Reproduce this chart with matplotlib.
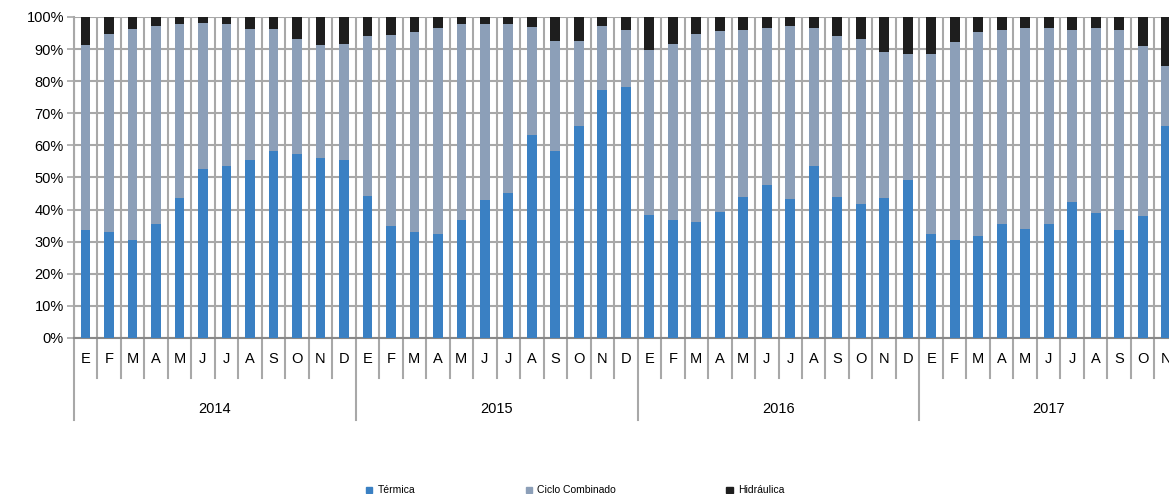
import matplotlib.pyplot as plt
import matplotlib.transforms as mtransforms
from matplotlib.patches import Patch

plt.rcParams['font.family'] = ['Liberation Sans', 'DejaVu Sans']

years = ["2014", "2015", "2016", "2017"]
months = ["E", "F", "M", "A", "M", "J", "J", "A", "S", "O", "N", "D"]
months_per_year = [12, 12, 12, 11]

# shares in %
termica = [33.5, 33.0, 30.6, 35.5, 43.7, 52.5, 53.6, 55.3, 58.2, 57.2, 56.2, 55.3,
           44.1, 34.8, 33.0, 32.4, 36.9, 43.0, 45.3, 63.3, 58.4, 65.9, 77.2, 78.2,
           38.3, 36.9, 36.1, 39.4, 43.8, 47.6, 43.2, 53.6, 44.0, 41.6, 43.6, 49.2,
           32.5, 30.6, 31.7, 35.4, 33.9, 35.4, 42.3, 38.8, 33.7, 38.1, 65.9]
ciclo = [57.7, 61.7, 65.6, 61.6, 54.1, 45.7, 44.3, 41.1, 38.0, 35.8, 35.0, 36.3,
         49.9, 59.5, 62.2, 64.3, 60.9, 54.9, 52.6, 33.5, 34.2, 26.5, 19.9, 17.9,
         51.3, 54.7, 58.6, 56.3, 52.3, 49.1, 54.1, 42.9, 50.2, 51.7, 45.5, 39.3,
         56.0, 61.5, 63.5, 60.7, 62.7, 61.2, 53.8, 57.8, 62.1, 53.0, 18.7]
hidraulica = [8.8, 5.3, 3.8, 2.9, 2.2, 1.8, 2.1, 3.6, 3.8, 7.0, 8.8, 8.4,
              6.0, 5.7, 4.8, 3.3, 2.2, 2.1, 2.1, 3.2, 7.4, 7.6, 2.9, 3.9,
              10.4, 8.4, 5.3, 4.3, 3.9, 3.3, 2.7, 3.5, 5.8, 6.7, 10.9, 11.5,
              11.5, 7.9, 4.8, 3.9, 3.4, 3.4, 3.9, 3.4, 4.2, 8.9, 15.4]

c_term = "#3a80c3"
c_ciclo = "#8c9fb8"
c_hid = "#1e1e1e"
c_grid = "#a8a8a8"

labels = []
for n in months_per_year:
    labels += months[:n]
x = list(range(len(labels)))
base2 = [a + b for a, b in zip(termica, ciclo)]

fig = plt.figure(figsize=(11.69, 4.94), dpi=100)
ax = fig.add_axes([0.0630, 0.3158, 0.9370, 0.6498])

w = 0.41
ax.bar(x, termica, w, color=c_term, zorder=3)
ax.bar(x, ciclo, w, bottom=termica, color=c_ciclo, zorder=3)
ax.bar(x, hidraulica, w, bottom=base2, color=c_hid, zorder=3)

ax.set_yticks(range(0, 101, 10))
ax.set_yticklabels([f"{v}%" for v in range(0, 101, 10)], fontsize=10.5)
ax.set_xticks(x)
ax.set_xticklabels(labels, fontsize=10.5)
ax.tick_params(axis='x', length=0, pad=10)
ax.tick_params(axis='y', length=5, width=1.2, color=c_grid, pad=2)
ax.set_xticks([k - 0.5 for k in range(len(labels) + 1)], minor=True)
ax.tick_params(axis='x', which='minor', length=0)
# limits after the ticks, otherwise set_xticks widens them again
ax.set_ylim(0, 100)
ax.set_xlim(-0.5, 46.12)
ax.grid(axis='y', color=c_grid, linewidth=1.5, zorder=0)
ax.grid(axis='x', which='minor', color=c_grid, linewidth=1.5, zorder=0)
for s in ["top", "right"]:
    ax.spines[s].set_visible(False)
ax.spines["left"].set_color(c_grid)
ax.spines["left"].set_linewidth(1.5)
ax.spines["bottom"].set_color("#888888")
ax.spines["bottom"].set_linewidth(1.5)

# category separators below the axis
trans = mtransforms.blended_transform_factory(ax.transData, ax.transAxes)
year_bounds = [0]
for n in months_per_year:
    year_bounds.append(year_bounds[-1] + n)
for k in range(len(labels) + 1):
    y_end = -0.255 if k in year_bounds else -0.125
    ax.plot([k - 0.5, k - 0.5], [0, y_end], color=c_grid, linewidth=1.5,
            transform=trans, clip_on=False)
for i, yr in enumerate(years):
    mid = year_bounds[i] + months_per_year[i] / 2 - 0.5
    ax.text(mid, -0.22, yr, transform=trans, ha='center', va='center', fontsize=10.5)

handles = [Patch(color=c_term, label="Térmica"),
           Patch(color=c_ciclo, label="Ciclo Combinado"),
           Patch(color=c_hid, label="Hidráulica")]
fig.legend(handles=handles, loc='lower center', bbox_to_anchor=(0.492, -0.022), ncol=3,
           frameon=False, fontsize=7.5, handlelength=0.6, handleheight=0.6,
           handletextpad=0.5, columnspacing=10.6)

fig.savefig("out.png", dpi=100)
